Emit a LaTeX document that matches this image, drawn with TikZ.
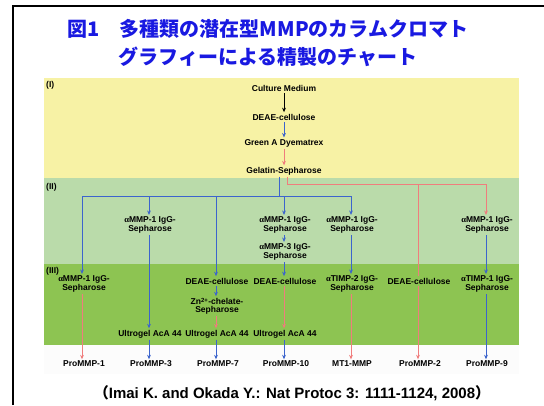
\documentclass[tikz,border=0pt]{standalone}
\usepackage{fontspec}
\setmainfont{Liberation Sans}
\newfontfamily\cjk{Noto Sans CJK JP}
\newfontfamily\grk{Liberation Serif}
\usetikzlibrary{arrows.meta}
\definecolor{ttlblue}{RGB}{25,25,225}
\definecolor{panelI}{RGB}{247,242,165}
\definecolor{panelII}{RGB}{186,219,170}
\definecolor{panelIII}{RGB}{141,196,82}
\definecolor{lnblue}{RGB}{60,100,205}
\definecolor{lnpink}{RGB}{240,125,125}
\newcommand{\alp}{{\grk α}}
\begin{document}
\begin{tikzpicture}[x=1pt,y=-1pt,
  lbl/.style={font=\fontsize{8.5}{7.4}\selectfont\bfseries, align=center, inner sep=1.5pt},
  plbl/.style={font=\fontsize{8.5}{8.5}\selectfont\bfseries, anchor=west, inner sep=0pt},
  bl/.style={draw=lnblue, line width=1pt},
  pk/.style={draw=lnpink, line width=1pt},
  bk/.style={draw=black, line width=1pt},
  tip/.style={-{Stealth[length=4.5pt,width=3.8pt]}}
  ]
\useasboundingbox (0,0) rectangle (544,405);
\fill[white] (0,0) rectangle (544,405);
% frame
\draw[line width=2pt] (13,405) -- (13,6) -- (544,6);
% title
\node[font=\cjk\bfseries\fontsize{20}{20}\selectfont, text=ttlblue, inner sep=0pt] (t1) at (268,29) {図1　多種類の潜在型MMPのカラムクロマト};
\node[font=\cjk\bfseries\fontsize{20}{20}\selectfont, text=ttlblue, inner sep=0pt] (t2) at (268,57) {グラフィーによる精製のチャート};
% panels
\fill[color=black!1!white] (44,345) rectangle (519,374);
\fill[panelI] (44,78) rectangle (519,178);
\fill[panelII] (44,178) rectangle (519,264);
\fill[panelIII] (44,264) rectangle (519,345);
\node[plbl] (pI) at (46,85) {(I)};
\node[plbl] (pII) at (46,187) {(II)};
\node[plbl] (pIII) at (46,271) {(III)};
% top chain
\node[lbl] (cm) at (284,88) {Culture Medium};
\node[lbl] (d0) at (284,117) {DEAE-cellulose};
\node[lbl] (gr) at (284,143) {Green A Dyematrex};
\node[lbl] (gel) at (284,171) {Gelatin-Sepharose};
% panel II
\node[lbl] (a2) at (150,225) {\alp MMP-1 IgG-\\Sepharose};
\node[lbl] (a4) at (285,225) {\alp MMP-1 IgG-\\Sepharose};
\node[lbl] (a4b) at (285,252) {\alp MMP-3 IgG-\\Sepharose};
\node[lbl] (a5) at (352,225) {\alp MMP-1 IgG-\\Sepharose};
\node[lbl] (a7) at (487,225) {\alp MMP-1 IgG-\\Sepharose};
% panel III
\node[lbl] (b1) at (84,284) {\alp MMP-1 IgG-\\Sepharose};
\node[lbl] (b3) at (217,281) {DEAE-cellulose};
\node[lbl] (b4) at (285,281) {DEAE-cellulose};
\node[lbl] (b5) at (352,284) {\alp TIMP-2 IgG-\\Sepharose};
\node[lbl] (b6) at (419,281) {DEAE-cellulose};
\node[lbl] (b7) at (487,284) {\alp TIMP-1 IgG-\\Sepharose};
\node[lbl] (zn) at (217,306) {Zn\textsuperscript{2+}-chelate-\\Sepharose};
\node[lbl] (u2) at (150,334) {Ultrogel AcA 44};
\node[lbl] (u3) at (217,334) {Ultrogel AcA 44};
\node[lbl] (u4) at (285,334) {Ultrogel AcA 44};
% products
\node[lbl] (p1) at (84,364) {ProMMP-1};
\node[lbl] (p2) at (151,364) {ProMMP-3};
\node[lbl] (p3) at (218,364) {ProMMP-7};
\node[lbl] (p4) at (286,364) {ProMMP-10};
\node[lbl] (p5) at (352,364) {MT1-MMP};
\node[lbl] (p6) at (420,364) {ProMMP-2};
\node[lbl] (p7) at (487,364) {ProMMP-9};
% citation
\node[font=\bfseries\fontsize{15}{15}\selectfont, inner sep=0pt] (cit) at (292,393) {{\cjk （}Imai K. and Okada Y.: Nat Protoc 3: 1111-1124, 2008{\cjk ）}};
% coordinates
\coordinate (hb) at (279,196);
\coordinate (h1) at (82,196);
\coordinate (h2) at (149,196);
\coordinate (h3) at (216,196);
\coordinate (h4) at (284,196);
\coordinate (h5) at (351,196);
\coordinate (k0) at (287,184);
\coordinate (k6) at (418,184);
\coordinate (k7) at (486,184);
% top chain arrows
\draw[bk,tip] (cm) -- (d0);
\draw[bl,tip] (d0) -- (gr);
\draw[pk,tip] (gr) -- (gel);
% blue distribution
\draw[bl] (gel.south -| hb) -- (hb);
\draw[bl] (h1) -- (h5);
\draw[bl,tip] (h1) -- (b1.north -| h1);
\draw[bl,tip] (h2) -- (a2.north -| h2);
\draw[bl,tip] (h3) -- (b3.north -| h3);
\draw[bl,tip] (h4) -- (a4.north -| h4);
\draw[bl,tip] (h5) -- (a5.north -| h5);
% pink distribution
\draw[pk] (gel.south -| k0) -- (k0) -- (k7);
\draw[pk,tip] (k7) -- (a7.north -| k7);
\draw[pk] (k6) -- (b6.north -| k6);
% column chains
\draw[bl,tip] (a2.south -| h2) -- (u2.north -| h2);
\draw[bl,tip] (a4.south -| h4) -- (a4b.north -| h4);
\draw[bl,tip] (a4b.south -| h4) -- (b4.north -| h4);
\draw[bl,tip] (a5.south -| h5) -- (b5.north -| h5);
\draw[bl,tip] (a7.south -| k7) -- (b7.north -| k7);
\draw[pk,tip] (b1.south -| h1) -- (p1.north -| h1);
\draw[bl,tip] (u2.south -| h2) -- (p2.north -| h2);
\draw[bl,tip] (b3.south -| h3) -- (zn.north -| h3);
\draw[pk,tip] (zn.south -| h3) -- (u3.north -| h3);
\draw[bl,tip] (u3.south -| h3) -- (p3.north -| h3);
\draw[pk,tip] (b4.south -| h4) -- (u4.north -| h4);
\draw[bl,tip] (u4.south -| h4) -- (p4.north -| h4);
\draw[pk,tip] (b5.south -| h5) -- (p5.north -| h5);
\draw[pk,tip] (b6.south -| k6) -- (p6.north -| k6);
\draw[bl,tip] (b7.south -| k7) -- (p7.north -| k7);
\end{tikzpicture}
\end{document}
